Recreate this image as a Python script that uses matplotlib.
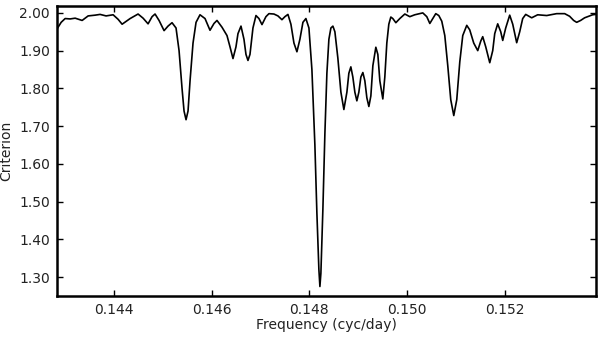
import numpy as np
import matplotlib
matplotlib.use('Agg')
from matplotlib import pyplot as plt
from matplotlib.ticker import FormatStrFormatter

# Criterion vs frequency
freq = [0.142833, 0.142915, 0.142997, 0.143099, 0.143202, 0.143345, 0.143468, 0.143611,
        0.143713, 0.143836, 0.143980, 0.144082, 0.144164, 0.144328, 0.144491, 0.144594,
        0.144696, 0.144778, 0.144839, 0.144921, 0.145024, 0.145105, 0.145187, 0.145269,
        0.145331, 0.145392, 0.145433, 0.145474, 0.145515, 0.145556, 0.145617, 0.145679,
        0.145760, 0.145863, 0.145965, 0.146047, 0.146108, 0.146211, 0.146313, 0.146375,
        0.146436, 0.146497, 0.146538, 0.146600, 0.146661, 0.146702, 0.146743, 0.146784,
        0.146845, 0.146907, 0.146968, 0.147030, 0.147111, 0.147173, 0.147275, 0.147357,
        0.147439, 0.147500, 0.147562, 0.147623, 0.147685, 0.147746, 0.147807, 0.147869,
        0.147930, 0.147992, 0.148053, 0.148114, 0.148155, 0.148196, 0.148217, 0.148237,
        0.148278, 0.148319, 0.148360, 0.148401, 0.148442, 0.148483, 0.148524, 0.148585,
        0.148647, 0.148708, 0.148770, 0.148810, 0.148851, 0.148892, 0.148933, 0.148974,
        0.149015, 0.149056, 0.149097, 0.149138, 0.149179, 0.149220, 0.149261, 0.149302,
        0.149363, 0.149404, 0.149445, 0.149506, 0.149547, 0.149588, 0.149629, 0.149670,
        0.149711, 0.149773, 0.149854, 0.149957, 0.150059, 0.150161, 0.150325, 0.150407,
        0.150469, 0.150530, 0.150591, 0.150653, 0.150714, 0.150776, 0.150837, 0.150898,
        0.150960, 0.151021, 0.151083, 0.151144, 0.151226, 0.151287, 0.151369, 0.151451,
        0.151512, 0.151553, 0.151615, 0.151697, 0.151758, 0.151799, 0.151860, 0.151922,
        0.151963, 0.152024, 0.152106, 0.152168, 0.152249, 0.152311, 0.152372, 0.152434,
        0.152556, 0.152679, 0.152864, 0.153068, 0.153232, 0.153334, 0.153416, 0.153478,
        0.153559, 0.153641, 0.153805, 0.153867]
crit = [1.958, 1.975, 1.985, 1.984, 1.986, 1.980, 1.992, 1.994,
        1.996, 1.992, 1.995, 1.983, 1.970, 1.985, 1.997, 1.986,
        1.971, 1.990, 1.997, 1.980, 1.953, 1.965, 1.974, 1.960,
        1.900, 1.800, 1.740, 1.717, 1.740, 1.820, 1.920, 1.975,
        1.995, 1.985, 1.954, 1.972, 1.980, 1.962, 1.940, 1.910,
        1.879, 1.910, 1.945, 1.965, 1.930, 1.890, 1.874, 1.890,
        1.960, 1.993, 1.985, 1.969, 1.990, 1.998, 1.997, 1.992,
        1.982, 1.990, 1.996, 1.970, 1.920, 1.897, 1.930, 1.975,
        1.985, 1.960, 1.850, 1.650, 1.470, 1.320, 1.275, 1.310,
        1.480, 1.680, 1.840, 1.930, 1.960, 1.965, 1.950, 1.880,
        1.790, 1.744, 1.790, 1.840, 1.857, 1.830, 1.790, 1.767,
        1.790, 1.830, 1.842, 1.820, 1.775, 1.752, 1.780, 1.860,
        1.909, 1.890, 1.820, 1.772, 1.830, 1.920, 1.970, 1.989,
        1.985, 1.974, 1.985, 1.997, 1.990, 1.995, 2.000, 1.990,
        1.972, 1.985, 1.998, 1.993, 1.978, 1.940, 1.860, 1.770,
        1.728, 1.770, 1.870, 1.940, 1.967, 1.955, 1.920, 1.900,
        1.925, 1.937, 1.910, 1.868, 1.900, 1.945, 1.971, 1.950,
        1.927, 1.960, 1.994, 1.970, 1.921, 1.950, 1.985, 1.996,
        1.987, 1.995, 1.993, 1.998, 1.998, 1.991, 1.980, 1.975,
        1.980, 1.987, 1.995, 1.996]

xticks = [0.144, 0.146, 0.148, 0.150, 0.152]
yticks = [1.30, 1.40, 1.50, 1.60, 1.70, 1.80, 1.90, 2.00]

fig = plt.figure(figsize=(6, 3.39), dpi=100)
ax = fig.add_axes([0.095, 0.127, 0.898, 0.855])

ax.plot(freq, crit, color='black', linewidth=1.2)

ax.set_xlim(0.14283, 0.15387)
ax.set_ylim(1.25, 2.018)
ax.set_xticks(xticks)
ax.set_yticks(yticks)
ax.xaxis.set_major_formatter(FormatStrFormatter('%.3f'))
ax.yaxis.set_major_formatter(FormatStrFormatter('%.2f'))
ax.tick_params(direction='in', length=4, width=1, top=True, right=True,
               labelsize=10, labelcolor='#222222', pad=5)

for s in ax.spines.values():
    s.set_linewidth(1.8)

ax.set_xlabel('Frequency (cyc/day)', fontsize=10, color='#222222', labelpad=1)
ax.set_ylabel('Criterion', fontsize=10, color='#222222', labelpad=4)

fig.savefig('out.png', dpi=100)
